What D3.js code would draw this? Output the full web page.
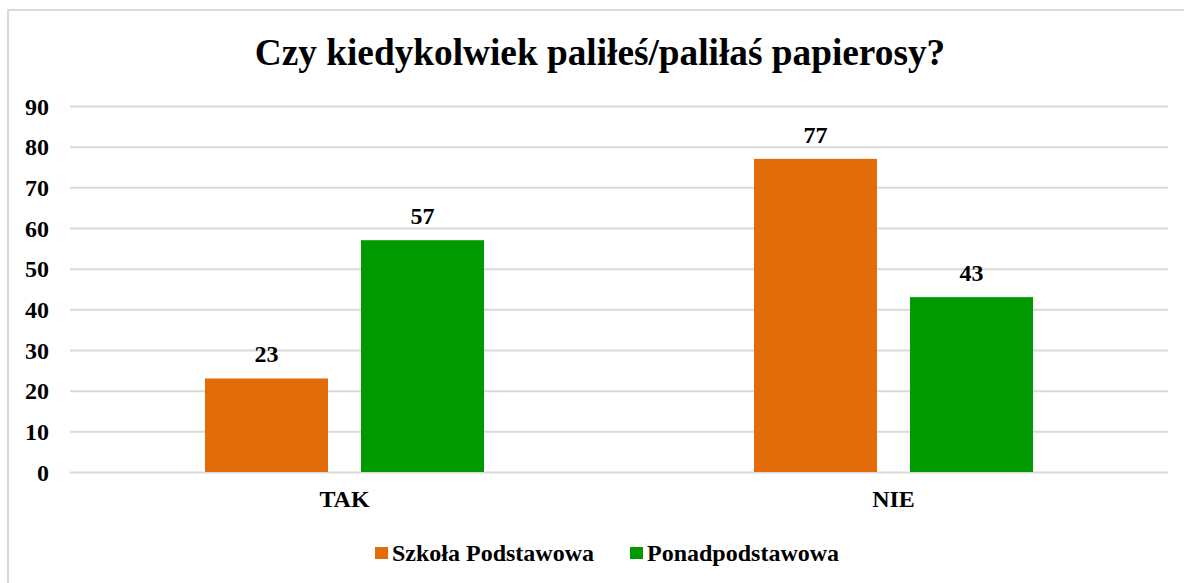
<!DOCTYPE html>
<html><head><meta charset="utf-8">
<script src="https://cdn.jsdelivr.net/npm/d3@7"></script>
<style>html,body{margin:0;padding:0;background:#fff;}svg{display:block;}svg text{font-family:"Liberation Serif","Times New Roman",serif;font-weight:bold;}</style>
</head><body>
<svg id="c" width="1184" height="583"></svg>
<script>
const title = "Czy kiedykolwiek paliłeś/paliłaś papierosy?";
const categories = ["TAK", "NIE"];
const seriesNames = ["Szkoła Podstawowa", "Ponadpodstawowa"];
const seriesColors = ["#E36C0A", "#009900"];
const szkolaPodstawowa = [23, 77];
const ponadpodstawowa = [57, 43];
const yTicks = [0, 10, 20, 30, 40, 50, 60, 70, 80, 90];

(function () {
const seriesValues = [szkolaPodstawowa, ponadpodstawowa];
const data = categories.map((c, i) => ({cat: c, vals: seriesValues.map((s, j) => ({name: seriesNames[j], v: s[i], color: seriesColors[j]}))}));

const svg = d3.select("#c");
const font = '"Liberation Serif","Times New Roman",serif';
const fs = 24;

// outer frame
svg.append("rect").attr("x", 8).attr("y", 10).attr("width", 1200).attr("height", 600)
  .attr("fill", "#fff").attr("stroke", "#d9d9d9").attr("stroke-width", 2);

const pLeft = 70, pRight = 1168, pTop = 106, pBottom = 472;
const y = d3.scaleLinear().domain([0, 90]).range([pBottom, pTop]);
const x0 = d3.scaleBand().domain(categories).range([pLeft, pRight]).paddingInner(270/549).paddingOuter(135/549);
const x1 = d3.scaleBand().domain(seriesNames).range([0, x0.bandwidth()]).paddingInner(33/156).paddingOuter(0);

// gridlines
const yAxis = d3.axisLeft(y).tickValues(yTicks).tickSize(-(pRight - pLeft)).tickPadding(21);
const ga = svg.append("g").attr("transform", `translate(${pLeft},0)`).call(yAxis);
ga.select(".domain").remove();
ga.selectAll(".tick line").attr("stroke", "#d9d9d9").attr("stroke-width", 2);
ga.selectAll(".tick text").style("font-family", font).style("font-weight", "bold").style("font-size", fs + "px").attr("fill", "#000").attr("dy", "0.34em");

// bars
const g = svg.append("g");
const grp = g.selectAll("g.cat").data(data).join("g").attr("class", "cat")
  .attr("transform", d => `translate(${x0(d.cat)},0)`);
grp.selectAll("rect").data(d => d.vals).join("rect")
  .attr("x", d => x1(d.name)).attr("width", x1.bandwidth())
  .attr("y", d => y(d.v)).attr("height", d => y(0) - y(d.v))
  .attr("fill", d => d.color);
grp.selectAll("text").data(d => d.vals).join("text")
  .attr("x", d => x1(d.name) + x1.bandwidth() / 2).attr("y", d => y(d.v) - 16)
  .attr("text-anchor", "middle").style("font-family", font).style("font-weight", "bold")
  .style("font-size", fs + "px").attr("fill", "#000").text(d => d.v);

// x axis labels
const xAxis = d3.axisBottom(x0).tickSize(0).tickPadding(18);
const gx = svg.append("g").attr("transform", `translate(0,${pBottom})`).call(xAxis);
gx.select(".domain").remove();
gx.selectAll(".tick text").style("font-family", font).style("font-weight", "bold").style("font-size", fs + "px").attr("fill", "#000");

// title
svg.append("text").attr("x", 600).attr("y", 65).attr("text-anchor", "middle")
  .style("font-family", font).style("font-weight", "bold").style("font-size", "37.3px").attr("fill", "#000").text(title);

// legend
const legendX = [375, 630];
const lg = svg.append("g").selectAll("g").data(seriesNames).join("g")
  .attr("transform", (d, i) => `translate(${legendX[i]},547)`);
lg.append("rect").attr("x", 0).attr("y", 0).attr("width", 13).attr("height", 12).attr("fill", (d, i) => seriesColors[i]);
lg.append("text").attr("x", 17).attr("y", 14).style("font-family", font).style("font-weight", "bold")
  .style("font-size", fs + "px").attr("fill", "#000").text(d => d);
})();
</script>
</body></html>
